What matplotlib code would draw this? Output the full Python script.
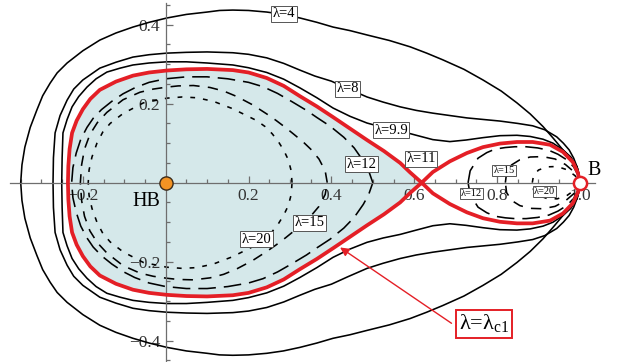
import matplotlib
matplotlib.use("Agg")
import matplotlib.pyplot as plt
from matplotlib.ticker import FixedLocator, FixedFormatter

plt.rcParams['font.family'] = ['Liberation Serif', 'DejaVu Serif']
plt.rcParams['mathtext.fontset'] = 'custom'
plt.rcParams['mathtext.rm'] = 'Liberation Serif'

RED = '#e41f26'
FILL = '#d5e8ea'
AXC = '#6e6e6e'

# upper halves of the level curves (the lower halves are mirror images)
# outer curves, from B round the top to the left crossing
lam4_x = [1.0, 0.998, 0.993, 0.978, 0.959, 0.936, 0.911, 0.88, 0.848, 0.81, 0.766, 0.72, 0.669,
          0.63, 0.59, 0.54, 0.486, 0.445, 0.404, 0.365, 0.324, 0.284, 0.244, 0.2, 0.162, 0.13,
          0.1, 0.05, 0.003, -0.04, -0.079, -0.12, -0.159, -0.2, -0.238, -0.262, -0.279, -0.297,
          -0.311, -0.327, -0.340, -0.347, -0.350]
lam4_y = [0.0, 0.02, 0.04, 0.062, 0.083, 0.112, 0.142, 0.174, 0.202, 0.232, 0.26, 0.287, 0.311,
          0.328, 0.344, 0.36, 0.374, 0.385, 0.394, 0.406, 0.417, 0.426, 0.432, 0.436, 0.437, 0.436,
          0.432, 0.426, 0.417, 0.406, 0.394, 0.379, 0.361, 0.334, 0.303, 0.278, 0.252, 0.22,
          0.184, 0.14, 0.09, 0.045, 0.0]

lam8_x = [1.0, 0.998, 0.993, 0.985, 0.974, 0.96, 0.944, 0.915, 0.886, 0.85, 0.807, 0.767, 0.727,
          0.686, 0.645, 0.605, 0.566, 0.525, 0.486, 0.44, 0.40, 0.36, 0.324, 0.285, 0.244, 0.2,
          0.162, 0.1, 0.05, 0.003, -0.04, -0.079, -0.12, -0.159, -0.2, -0.222, -0.238, -0.255,
          -0.267, -0.271, -0.272]
lam8_y = [0.0, 0.02, 0.04, 0.062, 0.083, 0.1, 0.116, 0.134, 0.144, 0.15, 0.156, 0.16, 0.164,
          0.17, 0.176, 0.183, 0.192, 0.204, 0.217, 0.238, 0.257, 0.27, 0.285, 0.302, 0.316, 0.325,
          0.329, 0.331, 0.330, 0.328, 0.324, 0.318, 0.305, 0.29, 0.26, 0.237, 0.209, 0.17,
          0.126, 0.063, 0.0]

lam99_x = [1.0, 0.998, 0.993, 0.978, 0.959, 0.935, 0.911, 0.88, 0.848, 0.807, 0.766, 0.725,
           0.686, 0.645, 0.605, 0.566, 0.525, 0.486, 0.445, 0.404, 0.365, 0.324, 0.285, 0.244,
           0.2, 0.162, 0.1, 0.05, 0.003, -0.04, -0.079, -0.11, -0.142, -0.168, -0.19, -0.21,
           -0.226, -0.238, -0.248, -0.25, -0.251]
lam99_y = [0.0, 0.02, 0.04, 0.065, 0.083, 0.1, 0.11, 0.117, 0.12, 0.119, 0.114, 0.108,
           0.104, 0.109, 0.12, 0.131, 0.14, 0.151, 0.168, 0.189, 0.215, 0.24, 0.262, 0.279,
           0.291, 0.298, 0.303, 0.306, 0.306, 0.303, 0.298, 0.29, 0.28, 0.263, 0.242, 0.218,
           0.192, 0.16, 0.126, 0.063, 0.0]

# separatrix lambda = lambda_c1, left lobe from the saddle, right lobe from the saddle to B
sep_left_x = [0.618, 0.59, 0.566, 0.527, 0.486, 0.445, 0.404, 0.365, 0.324, 0.285, 0.244, 0.2,
              0.162, 0.1, 0.05, 0.003, -0.04, -0.079, -0.12, -0.159, -0.182, -0.2, -0.215,
              -0.226, -0.232, -0.235, -0.236]
sep_left_y = [0.0, 0.026, 0.05, 0.08, 0.108, 0.137, 0.166, 0.193, 0.219, 0.245, 0.265, 0.279,
              0.285, 0.288, 0.287, 0.284, 0.279, 0.271, 0.256, 0.235, 0.212, 0.186, 0.157,
              0.126, 0.085, 0.042, 0.0]
sep_right_x = [0.618, 0.645, 0.686, 0.727, 0.766, 0.807, 0.848, 0.886, 0.928, 0.959, 0.983,
               0.995, 1.0]
sep_right_y = [0.0, 0.027, 0.054, 0.075, 0.09, 0.099, 0.103, 0.103, 0.096, 0.078, 0.052,
               0.025, 0.0]

# inner curves around HB
lam12_l_x = [0.50, 0.49, 0.477, 0.455, 0.43, 0.397, 0.365, 0.34, 0.305, 0.27, 0.235, 0.2, 0.15,
             0.10, 0.05, 0.0, -0.04, -0.075, -0.103, -0.13, -0.155, -0.175, -0.19, -0.205,
             -0.216, -0.224, -0.227]
lam12_l_y = [0.0, 0.03, 0.055, 0.088, 0.115, 0.143, 0.165, 0.183, 0.205, 0.226, 0.243, 0.254,
             0.263, 0.268, 0.268, 0.263, 0.254, 0.24, 0.225, 0.206, 0.185, 0.163, 0.14, 0.11,
             0.075, 0.038, 0.0]
lam15_l_x = [0.39, 0.385, 0.37, 0.35, 0.332, 0.31, 0.29, 0.266, 0.244, 0.21, 0.172, 0.14, 0.107,
             0.067, 0.03, 0.003, -0.03, -0.062, -0.103, -0.142, -0.165, -0.183, -0.196, -0.203,
             -0.206]
lam15_l_y = [0.0, 0.03, 0.06, 0.085, 0.103, 0.122, 0.139, 0.158, 0.174, 0.197, 0.218, 0.232,
             0.241, 0.246, 0.245, 0.242, 0.237, 0.229, 0.21, 0.178, 0.152, 0.122, 0.085, 0.045,
             0.0]
lam20_l_x = [0.305, 0.303, 0.296, 0.285, 0.272, 0.257, 0.24, 0.22, 0.199, 0.16, 0.115, 0.075,
             0.04, 0.003, -0.054, -0.103, -0.134, -0.152, -0.166, -0.178, -0.185, -0.187]
lam20_l_y = [0.0, 0.03, 0.058, 0.082, 0.104, 0.124, 0.142, 0.157, 0.168, 0.188, 0.206, 0.215,
             0.217, 0.214, 0.202, 0.175, 0.15, 0.128, 0.1, 0.065, 0.032, 0.0]

# inner curves of the right lobe, ending at B
lam12_r_x = [0.730, 0.735, 0.754, 0.775, 0.795, 0.82, 0.843, 0.87, 0.898, 0.925, 0.947, 0.968,
             0.985, 0.995, 1.0]
lam12_r_y = [0.0, 0.03, 0.062, 0.076, 0.085, 0.089, 0.091, 0.091, 0.088, 0.082, 0.072, 0.058,
             0.04, 0.02, 0.0]
lam15_r_x = [0.82, 0.823, 0.835, 0.855, 0.88, 0.91, 0.94, 0.965, 0.985, 1.0]
lam15_r_y = [0.0, 0.025, 0.045, 0.058, 0.065, 0.066, 0.06, 0.046, 0.028, 0.0]
lam20_r_x = [0.885, 0.888, 0.9, 0.92, 0.945, 0.968, 0.988, 1.0]
lam20_r_y = [0.0, 0.018, 0.032, 0.04, 0.041, 0.033, 0.018, 0.0]

# curve labels: text, x, y, font size
labels = [('λ=4', 0.2855, 0.428, 10.5), ('λ=8', 0.439, 0.238, 10.5), ('λ=9.9', 0.544, 0.133, 10.5),
          ('λ=11', 0.617, 0.061, 10.5), ('λ=12', 0.473, 0.047, 10.5), ('λ=15', 0.348, -0.101, 10.5),
          ('λ=20', 0.219, -0.143, 10.5), ('λ=15', 0.817, 0.030, 7.5), ('λ=12', 0.738, -0.027, 7.5),
          ('λ=20', 0.915, -0.022, 7.5)]


def closed(xs, ys):
    # upper half followed by its mirror image
    return list(xs) + list(xs[::-1]), list(ys) + [-v for v in ys[::-1]]


fig = plt.figure(figsize=(6.23, 3.62), dpi=100)
ax = fig.add_axes([0, 0, 1, 1])
ax.set_xlim(-0.4, 1.104)
ax.set_ylim(-0.454, 0.4625)
ax.set_axisbelow(True)

# shaded basin inside the left lobe
fx, fy = closed(sep_left_x, sep_left_y)
ax.fill(fx, fy, color=FILL, lw=0, zorder=0.2)

for xs, ys in [(lam4_x, lam4_y), (lam8_x, lam8_y), (lam99_x, lam99_y)]:
    cx, cy = closed(xs, ys)
    ax.plot(cx, cy, color='black', lw=1.15, zorder=2)

dash12 = (0, (11, 5))
dash15 = (0, (6.5, 5.2))
dash20 = (0, (3.0, 5.0))
for xs, ys, ls in [(lam12_l_x, lam12_l_y, dash12), (lam15_l_x, lam15_l_y, dash15),
                   (lam20_l_x, lam20_l_y, dash20), (lam12_r_x, lam12_r_y, dash12),
                   (lam15_r_x, lam15_r_y, dash15), (lam20_r_x, lam20_r_y, dash20)]:
    cx, cy = closed(xs, ys)
    ax.plot(cx, cy, color='black', lw=1.15, linestyle=ls, zorder=2)

for xs, ys in [(sep_left_x, sep_left_y), (sep_right_x, sep_right_y)]:
    cx, cy = closed(xs, ys)
    ax.plot(cx, cy, color=RED, lw=2.7, zorder=3, solid_joinstyle='round')

for txt, x, y, fs in labels:
    ax.text(x, y, txt, fontsize=fs, ha='center', va='center', zorder=5,
            bbox=dict(boxstyle='square,pad=0.1', fc='white', ec='#555555', lw=0.7))

# fixed points
ax.plot(0, 0, 'o', ms=9.5, mfc='#f39324', mec='#3b2b1b', mew=1.0, zorder=6)
ax.plot(1, 0, 'o', ms=9.5, mfc='white', mec=RED, mew=1.8, zorder=6)
ax.text(-0.047, -0.048, 'HB', fontsize=14.5, ha='center', va='center', zorder=5)
ax.text(1.034, 0.032, 'B', fontsize=14.5, ha='center', va='center', zorder=5)

ax.annotate('', xy=(0.421, -0.164), xytext=(0.690, -0.356), zorder=5,
            arrowprops=dict(arrowstyle='-|>', color=RED, lw=1.0, mutation_scale=13,
                            shrinkA=0, shrinkB=0))
ax.text(0.768, -0.357, 'λ=λ$_{\\mathrm{c1}}$', fontsize=16, ha='center', va='center', zorder=6,
        bbox=dict(boxstyle='square,pad=0.12', fc='white', ec=RED, lw=1.4))

# axes through the origin
for side in ['top', 'right']:
    ax.spines[side].set_visible(False)
ax.spines['bottom'].set_position(('data', 0))
ax.spines['left'].set_position(('data', 0))
ax.spines['bottom'].set_bounds(-0.376, 1.036)
ax.spines['left'].set_bounds(-0.46, 0.455)
for side in ['bottom', 'left']:
    ax.spines[side].set_color(AXC)
    ax.spines[side].set_linewidth(0.9)

ax.xaxis.set_major_locator(FixedLocator([-0.2, 0.2, 0.4, 0.6, 0.8, 1.0]))
ax.xaxis.set_major_formatter(FixedFormatter(['\u22120.2', '0.2', '0.4', '0.6', '0.8', '1.0']))
ax.xaxis.set_minor_locator(FixedLocator([i * 0.05 for i in range(-7, 21)]))
ax.yaxis.set_major_locator(FixedLocator([-0.4, -0.2, 0.2, 0.4]))
ax.yaxis.set_major_formatter(FixedFormatter(['\u22120.4', '\u22120.2', '0.2', '0.4']))
ax.yaxis.set_minor_locator(FixedLocator([i * 0.05 for i in range(-9, 10)]))
ax.tick_params(which='both', direction='in', color=AXC, width=0.9, labelsize=12.5,
               labelcolor='#333333')
ax.tick_params(which='major', length=5)
ax.tick_params(which='minor', length=3)
ax.tick_params(axis='x', pad=4)
ax.tick_params(axis='y', pad=4)

fig.savefig('out.png', dpi=100)
